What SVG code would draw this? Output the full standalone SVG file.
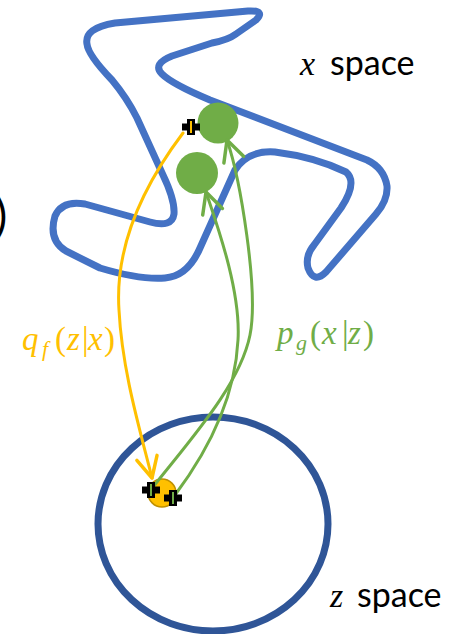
<svg xmlns="http://www.w3.org/2000/svg" width="450" height="634" viewBox="0 0 450 634">
<style>
.space{fill:#000;font-family:Lato,"Open Sans",sans-serif;font-size:34px}
.mathv{font-family:"Liberation Serif",serif;font-style:italic}
.mathu{font-family:"Liberation Serif",serif}
.conn{fill:none;stroke-width:3;stroke-linecap:round}
.orange{stroke:#FFC000}
.green{stroke:#70AD47}
</style>
<defs>
<marker id="arrO" markerUnits="userSpaceOnUse" markerWidth="30" markerHeight="30" refX="0" refY="0" viewBox="-22 -12 26 24" orient="auto" overflow="visible">
<path d="M-18,-9 L0,0 L-18,9" fill="none" stroke="#FFC000" stroke-width="3" stroke-linecap="round" stroke-linejoin="round"/>
</marker>
<marker id="arrG" markerUnits="userSpaceOnUse" markerWidth="30" markerHeight="30" refX="0" refY="0" viewBox="-22 -12 26 24" orient="auto" overflow="visible">
<path d="M-18,-9 L0,0 L-18,9" fill="none" stroke="#70AD47" stroke-width="3" stroke-linecap="round" stroke-linejoin="round"/>
</marker>
<path id="cross" d="M-9,-3.5 H-4 V-8 H4 V-3.5 H9 V3.5 H4 V8 H-4 V3.5 H-9 Z" fill="#000"/>
</defs>

<g id="x-space">
<path d="M87,44 Q84,28 115,23 L248,11 Q266,10 256,20 L236,34 Q228,40 212,43 L172,56 Q152,64 162,74 Q172,84 210,100 L367,160 Q384,168 387,186 Q388,200 376,214 L326,272 Q314,284 308,268 Q305,256 314,245 L341,208 Q358,182 346,172 Q315,157 275,152 Q248,150 235,170 L200,248 Q188,276 165,278 Q140,280 100,268 L66,251 Q48,240 55,216 Q62,200 85,204 L150,222 Q172,228 174,214 Q175,200 163,175 L137,118 Q127,98 112,80 Q88,55 87,44 Z" fill="none" stroke="#4472C4" stroke-width="7" stroke-linejoin="round"/>
</g>

<g id="z-space">
<ellipse cx="213" cy="524" rx="115" ry="107" fill="none" stroke="#2F5597" stroke-width="7"/>
</g>

<g id="x-point-1">
<circle cx="218" cy="123" r="20.5" fill="#70AD47"/>
</g>
<g id="x-point-2">
<circle cx="197" cy="173" r="21" fill="#70AD47"/>
</g>
<g id="z-point">
<circle cx="162" cy="493" r="14" fill="#FFC000" stroke="#BF9000" stroke-width="1.5"/>
</g>

<g id="connectors">
<path class="conn orange" d="M183,133 C140,190 115,250 119,310 C122,370 140,430 152,478" marker-end="url(#arrO)"/>
<path class="conn green" d="M153,487 C190,440 240,385 250,335 C259,290 240,178 227,140" marker-end="url(#arrG)"/>
<path class="conn green" d="M175,495 C205,455 235,400 238,340 C241,290 216,222 206,192" marker-end="url(#arrG)"/>
</g>

<g id="anchor-x">
<use href="#cross" x="191" y="127"/>
<line x1="191" y1="121" x2="191" y2="133" stroke="#FFC000" stroke-width="2"/>
</g>
<g id="anchor-z1">
<use href="#cross" x="151" y="490"/>
<line x1="151" y1="484" x2="151" y2="496" stroke="#70AD47" stroke-width="2"/>
</g>
<g id="anchor-z2">
<use href="#cross" x="173" y="498"/>
<line x1="173" y1="492" x2="173" y2="504" stroke="#70AD47" stroke-width="2"/>
</g>

<g id="label-x-space">
<text y="75" class="space"><tspan class="mathv" x="300">x</tspan><tspan x="330">space</tspan></text>
</g>
<g id="label-z-space">
<text y="607" class="space"><tspan class="mathv" x="330">z</tspan><tspan x="357">space</tspan></text>
</g>
<g id="label-qf">
<text fill="#FFC000" font-size="33"><tspan class="mathv" x="22" y="350">q</tspan><tspan class="mathv" x="42" y="356" font-size="22">f</tspan><tspan class="mathu" x="55" y="350">(</tspan><tspan class="mathv" x="67" y="350">z</tspan><tspan class="mathu" x="82" y="350">|</tspan><tspan class="mathv" x="88" y="350">x</tspan><tspan class="mathu" x="104" y="350">)</tspan></text>
</g>
<g id="label-pg">
<text fill="#70AD47" font-size="33"><tspan class="mathv" x="277" y="344">p</tspan><tspan class="mathv" x="296" y="350" font-size="22">g</tspan><tspan class="mathu" x="310" y="344">(</tspan><tspan class="mathv" x="322" y="344">x</tspan><tspan class="mathu" x="342" y="344">|</tspan><tspan class="mathv" x="348" y="344">z</tspan><tspan class="mathu" x="363" y="344">)</tspan></text>
</g>
<g id="paren">
<text x="-5" y="232" font-family="Lato,'Open Sans',sans-serif" font-size="46" fill="#000">)</text>
</g>
</svg>
